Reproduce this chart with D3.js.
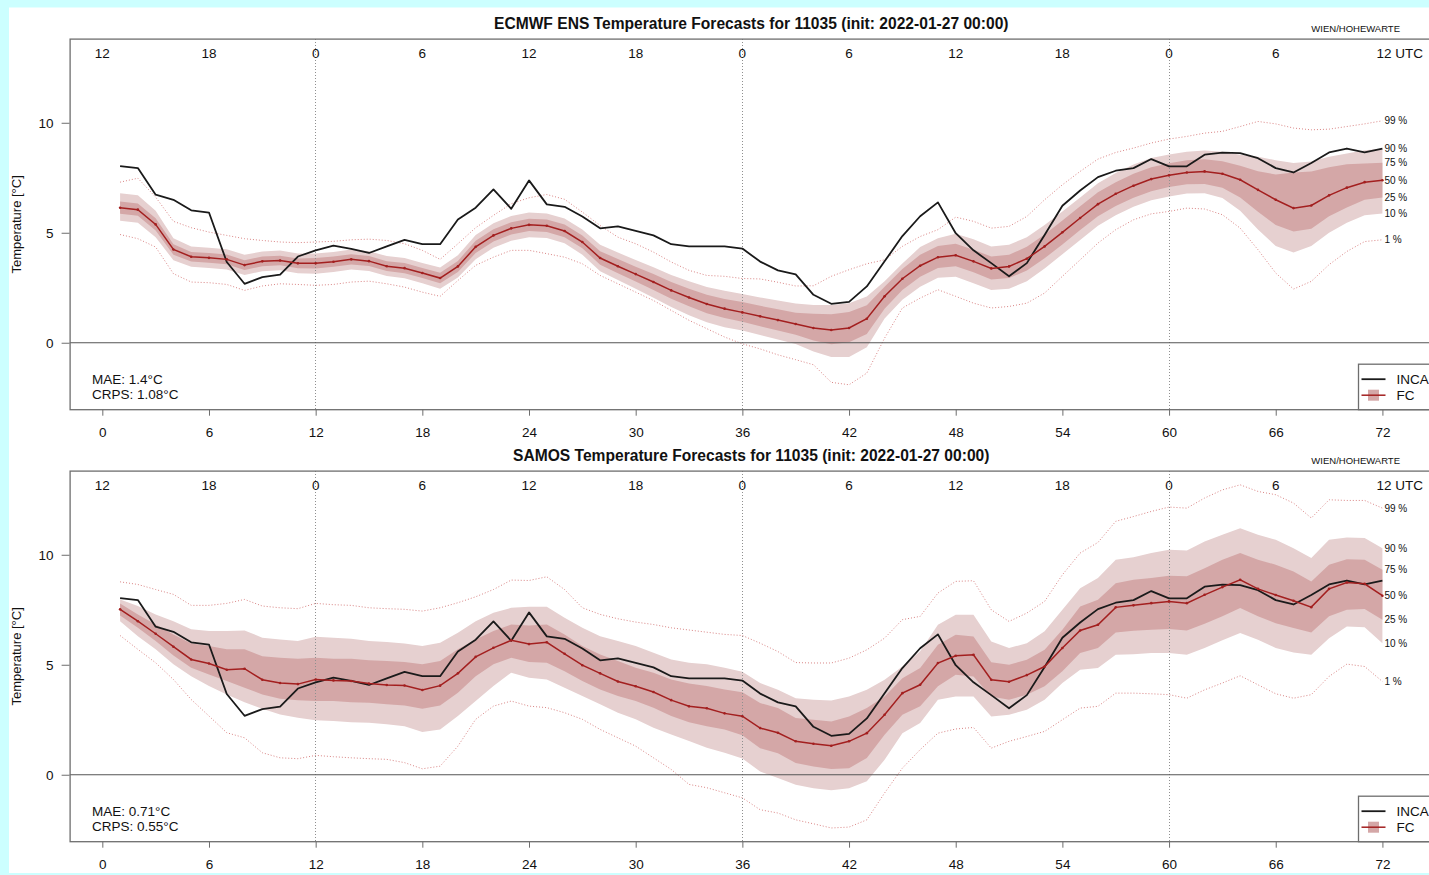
<!DOCTYPE html>
<html>
<head>
<meta charset="utf-8">
<script src="https://cdn.jsdelivr.net/npm/d3@7"></script>
<style>
  html, body { margin: 0; padding: 0; background: #ccffff; }
  svg { display: block; font-family: "Liberation Sans", Arial, Helvetica, sans-serif; }
</style>
</head>
<body>
<svg id="chart" width="1429" height="875"></svg>
<script>
// ---- data: lead time (h) 1..72, observation and forecast quantiles ----
const leadHours = d3.range(1, 73);
const bottomTicks = [0, 6, 12, 18, 24, 30, 36, 42, 48, 54, 60, 66, 72];
const utcLabels = ["12", "18", "0", "6", "12", "18", "0", "6", "12", "18", "0", "6", "12 UTC"];
const midnightHours = [12, 36, 60];
const tempTicks = [0, 5, 10];
const quantileNames = ["1 %", "10 %", "25 %", "50 %", "75 %", "90 %", "99 %"];

// INCA analysis (observed) temperature
const inca = [8.03, 7.94, 6.73, 6.50, 6.02, 5.92, 3.67, 2.68, 2.98, 3.10, 3.92, 4.20, 4.41, 4.27, 4.08, 4.38, 4.68, 4.48,
  4.48, 5.60, 6.14, 6.97, 6.09, 7.38, 6.29, 6.18, 5.74, 5.20, 5.29, 5.09, 4.88, 4.48, 4.38, 4.38, 4.38, 4.28,
  3.69, 3.29, 3.11, 2.18, 1.77, 1.86, 2.56, 3.70, 4.85, 5.75, 6.38, 4.98, 4.20, 3.62, 3.02, 3.62, 4.90, 6.23,
  6.92, 7.53, 7.82, 7.94, 8.35, 8.02, 8.02, 8.55, 8.64, 8.62, 8.39, 7.94, 7.74, 8.17, 8.65, 8.83, 8.65, 8.82];

// ECMWF ENS quantiles
const ensQ01 = [4.92, 4.73, 4.35, 3.14, 2.76, 2.73, 2.65, 2.38, 2.58, 2.68, 2.65, 2.61, 2.65, 2.76, 2.80, 2.68, 2.53, 2.30,
  2.11, 2.83, 3.52, 3.89, 4.20, 4.20, 4.05, 3.89, 3.59, 3.06, 2.68, 2.30, 1.92, 1.47, 1.02, 0.64, 0.26, -0.05,
  -0.28, -0.55, -0.77, -1.00, -1.80, -1.91, -1.38, 0.21, 1.58, 2.03, 2.41, 2.11, 1.80, 1.58, 1.65, 1.80, 2.26, 3.02,
  3.77, 4.53, 5.14, 5.59, 5.86, 5.97, 6.12, 6.08, 5.82, 5.21, 4.23, 3.17, 2.44, 2.79, 3.55, 4.15, 4.60, 4.68];
const ensQ10 = [5.55, 5.45, 4.80, 3.75, 3.45, 3.40, 3.33, 3.08, 3.25, 3.29, 3.16, 3.14, 3.22, 3.33, 3.26, 3.03, 2.93, 2.71,
  2.46, 2.97, 3.80, 4.32, 4.64, 4.80, 4.76, 4.52, 4.00, 3.25, 2.85, 2.45, 2.05, 1.62, 1.25, 0.93, 0.70, 0.56,
  0.35, 0.15, -0.06, -0.40, -0.65, -0.65, -0.20, 1.10, 1.95, 2.55, 2.95, 3.00, 2.70, 2.40, 2.45, 2.80, 3.38, 4.02,
  4.67, 5.32, 5.80, 6.18, 6.48, 6.65, 6.78, 6.80, 6.58, 6.00, 5.15, 4.40, 4.10, 4.40, 5.00, 5.45, 5.80, 5.88];
const ensQ25 = [5.86, 5.77, 5.10, 4.00, 3.69, 3.64, 3.57, 3.31, 3.48, 3.52, 3.39, 3.38, 3.45, 3.56, 3.49, 3.26, 3.16, 2.94,
  2.70, 3.22, 4.08, 4.60, 4.92, 5.08, 5.04, 4.80, 4.30, 3.55, 3.16, 2.78, 2.40, 2.00, 1.66, 1.34, 1.12, 0.95,
  0.75, 0.56, 0.36, 0.10, -0.07, 0.02, 0.40, 1.55, 2.40, 3.00, 3.40, 3.48, 3.20, 2.88, 2.94, 3.28, 3.84, 4.47,
  5.12, 5.75, 6.22, 6.59, 6.89, 7.08, 7.20, 7.22, 7.05, 6.60, 5.95, 5.35, 5.06, 5.18, 5.75, 6.15, 6.50, 6.60];
const ensQ50 = [6.14, 6.05, 5.38, 4.24, 3.91, 3.86, 3.79, 3.53, 3.70, 3.74, 3.61, 3.61, 3.68, 3.79, 3.71, 3.48, 3.39, 3.17,
  2.94, 3.47, 4.36, 4.88, 5.20, 5.36, 5.32, 5.08, 4.58, 3.85, 3.48, 3.12, 2.76, 2.38, 2.06, 1.76, 1.55, 1.38,
  1.20, 1.03, 0.85, 0.67, 0.58, 0.67, 1.09, 2.11, 2.91, 3.50, 3.89, 3.98, 3.70, 3.38, 3.47, 3.82, 4.38, 5.02,
  5.67, 6.30, 6.77, 7.14, 7.44, 7.61, 7.74, 7.79, 7.68, 7.41, 6.95, 6.50, 6.12, 6.24, 6.70, 7.05, 7.30, 7.39];
const ensQ75 = [6.42, 6.33, 5.66, 4.48, 4.13, 4.08, 4.01, 3.75, 3.92, 3.96, 3.83, 3.85, 3.92, 4.02, 3.94, 3.71, 3.62, 3.40,
  3.18, 3.72, 4.64, 5.16, 5.48, 5.64, 5.60, 5.37, 4.87, 4.16, 3.81, 3.46, 3.12, 2.76, 2.46, 2.18, 1.99, 1.85,
  1.68, 1.52, 1.36, 1.32, 1.30, 1.40, 1.70, 2.55, 3.35, 4.00, 4.40, 4.50, 4.23, 3.92, 4.00, 4.36, 4.92, 5.56,
  6.20, 6.84, 7.30, 7.68, 7.98, 8.16, 8.30, 8.34, 8.25, 8.05, 7.80, 7.65, 7.74, 7.78, 7.98, 8.12, 8.15, 8.18];
const ensQ90 = [6.80, 6.70, 6.00, 4.75, 4.38, 4.32, 4.25, 4.00, 4.15, 4.19, 4.06, 4.06, 4.13, 4.24, 4.16, 3.94, 3.85, 3.63,
  3.42, 3.98, 4.90, 5.43, 5.76, 5.92, 5.88, 5.65, 5.15, 4.45, 4.10, 3.76, 3.43, 3.08, 2.80, 2.53, 2.36, 2.22,
  2.06, 1.92, 1.78, 1.72, 1.72, 1.80, 2.10, 2.80, 3.60, 4.35, 4.75, 4.95, 4.70, 4.38, 4.45, 4.80, 5.35, 5.97,
  6.60, 7.25, 7.72, 8.10, 8.40, 8.56, 8.68, 8.74, 8.68, 8.55, 8.45, 8.30, 8.17, 8.24, 8.45, 8.60, 8.75, 8.82];
const ensQ99 = [7.30, 7.48, 6.62, 5.52, 5.23, 5.03, 4.88, 4.73, 4.65, 4.58, 4.55, 4.58, 4.61, 4.68, 4.71, 4.65, 4.50, 4.20,
  3.79, 4.50, 5.23, 5.79, 6.32, 6.59, 6.74, 6.52, 5.94, 5.33, 4.80, 4.50, 4.12, 3.67, 3.29, 3.06, 3.02, 2.92,
  2.90, 2.75, 2.58, 2.59, 3.02, 3.32, 3.59, 3.77, 4.38, 4.83, 5.14, 5.71, 5.52, 5.21, 5.29, 5.74, 6.50, 7.18,
  7.79, 8.35, 8.65, 8.85, 9.08, 9.26, 9.38, 9.53, 9.61, 9.83, 10.06, 9.95, 9.76, 9.68, 9.71, 9.83, 9.95, 10.09];

// SAMOS quantiles
const samosQ01 = [6.33, 5.70, 5.09, 4.33, 3.42, 2.67, 1.91, 1.68, 1.00, 0.77, 0.73, 0.88, 0.82, 0.77, 0.73, 0.70, 0.55, 0.27,
  0.39, 1.30, 2.52, 3.12, 3.35, 3.12, 3.05, 2.82, 2.52, 2.06, 1.68, 1.30, 0.77, 0.24, -0.44, -0.59, -0.82, -1.05,
  -1.59, -1.74, -2.05, -2.23, -2.42, -2.38, -2.05, -0.83, 0.30, 1.14, 1.89, 2.08, 2.15, 1.21, 1.52, 1.74, 1.97, 2.50,
  3.03, 3.11, 3.71, 3.71, 3.68, 3.64, 3.48, 3.86, 4.17, 4.50, 4.09, 3.68, 3.48, 3.64, 4.47, 5.03, 4.92, 4.24];
const samosQ10 = [6.98, 6.30, 5.70, 5.02, 4.48, 4.03, 3.65, 3.30, 3.00, 2.74, 2.59, 2.48, 2.44, 2.39, 2.36, 2.29, 2.21, 1.94,
  2.06, 2.67, 3.35, 4.03, 4.64, 4.41, 4.33, 3.95, 3.58, 3.20, 2.82, 2.52, 2.14, 1.83, 1.53, 1.23, 1.00, 0.74,
  0.15, -0.15, -0.45, -0.61, -0.71, -0.61, -0.30, 0.68, 1.89, 2.35, 3.41, 3.56, 3.56, 2.65, 2.73, 2.95, 3.41, 4.17,
  4.77, 4.85, 5.45, 5.48, 5.53, 5.53, 5.45, 5.76, 6.11, 6.44, 6.14, 5.76, 5.56, 5.45, 6.21, 6.74, 6.71, 5.98];
const samosQ25 = [7.24, 6.68, 6.08, 5.42, 4.86, 4.56, 4.26, 3.95, 3.65, 3.45, 3.39, 3.35, 3.35, 3.30, 3.27, 3.20, 3.15, 3.00,
  3.15, 3.73, 4.48, 5.02, 5.32, 5.12, 5.09, 4.71, 4.26, 3.88, 3.58, 3.35, 3.05, 2.67, 2.39, 2.21, 2.06, 1.80,
  1.21, 0.98, 0.53, 0.38, 0.26, 0.30, 0.76, 1.82, 2.73, 3.11, 4.02, 4.55, 4.47, 3.56, 3.41, 3.64, 4.02, 4.70,
  5.53, 5.76, 6.47, 6.55, 6.59, 6.62, 6.56, 6.86, 7.20, 7.58, 7.20, 6.89, 6.67, 6.47, 7.20, 7.50, 7.53, 7.05];
const samosQ50 = [7.52, 6.98, 6.41, 5.82, 5.24, 5.06, 4.77, 4.82, 4.32, 4.17, 4.12, 4.33, 4.29, 4.26, 4.15, 4.08, 4.06, 3.85,
  4.05, 4.61, 5.36, 5.77, 6.11, 5.94, 6.02, 5.50, 4.98, 4.61, 4.24, 4.02, 3.76, 3.39, 3.11, 3.02, 2.79, 2.66,
  2.12, 1.91, 1.52, 1.41, 1.32, 1.52, 1.89, 2.73, 3.71, 4.09, 5.08, 5.41, 5.45, 4.32, 4.23, 4.53, 4.92, 5.76,
  6.56, 6.82, 7.61, 7.70, 7.80, 7.88, 7.80, 8.18, 8.53, 8.86, 8.45, 8.17, 7.91, 7.62, 8.45, 8.74, 8.68, 8.14];
const samosQ75 = [7.79, 7.29, 6.83, 6.38, 5.97, 5.85, 5.70, 5.70, 5.39, 5.32, 5.27, 5.32, 5.27, 5.27, 5.21, 5.17, 5.12, 5.02,
  5.17, 5.70, 6.15, 6.53, 6.83, 6.79, 6.83, 6.38, 5.85, 5.47, 5.17, 4.86, 4.64, 4.33, 4.15, 4.03, 3.88, 3.75,
  3.26, 3.03, 2.58, 2.50, 2.42, 2.65, 3.03, 3.56, 4.39, 4.85, 5.91, 6.36, 6.29, 5.11, 5.00, 5.23, 5.68, 6.59,
  7.65, 7.95, 8.71, 8.86, 8.94, 9.05, 9.02, 9.39, 9.77, 10.08, 9.77, 9.55, 9.24, 8.79, 9.55, 9.80, 9.77, 9.32];
const samosQ90 = [7.97, 7.67, 7.29, 6.98, 6.61, 6.53, 6.53, 6.56, 6.23, 6.15, 6.08, 6.27, 6.23, 6.18, 6.08, 6.03, 5.97, 5.85,
  6.00, 6.45, 6.98, 7.36, 7.59, 7.64, 7.64, 7.14, 6.68, 6.30, 6.08, 5.85, 5.55, 5.24, 5.09, 5.02, 4.86, 4.68,
  4.17, 3.86, 3.48, 3.41, 3.38, 3.56, 3.86, 4.32, 4.92, 5.61, 6.82, 7.27, 7.27, 6.06, 5.76, 5.98, 6.52, 7.50,
  8.48, 8.94, 9.77, 9.89, 10.08, 10.23, 10.20, 10.60, 10.91, 11.21, 10.91, 10.68, 10.30, 9.85, 10.68, 10.79, 10.76, 10.30];
const samosQ99 = [8.77, 8.65, 8.42, 8.20, 7.70, 7.70, 7.79, 7.97, 7.67, 7.59, 7.55, 7.79, 7.73, 7.70, 7.59, 7.55, 7.52, 7.44,
  7.59, 7.82, 8.09, 8.42, 8.85, 8.83, 9.00, 8.42, 7.59, 7.29, 7.09, 6.94, 6.83, 6.68, 6.58, 6.48, 6.38, 6.33,
  5.98, 5.60, 5.10, 5.08, 5.08, 5.30, 5.68, 6.21, 7.05, 7.20, 8.26, 8.79, 8.82, 7.50, 6.97, 7.35, 7.88, 9.09,
  10.08, 10.56, 11.52, 11.74, 11.97, 12.17, 12.12, 12.58, 12.95, 13.18, 12.88, 12.73, 12.35, 11.67, 12.50, 12.47, 12.47, 12.12];

const panels = [
  { title: "ECMWF ENS Temperature Forecasts for 11035 (init: 2022-01-27 00:00)",
    q: [ensQ01, ensQ10, ensQ25, ensQ50, ensQ75, ensQ90, ensQ99], scores: ["MAE: 1.4°C", "CRPS: 1.08°C"], offset: 0 },
  { title: "SAMOS Temperature Forecasts for 11035 (init: 2022-01-27 00:00)",
    q: [samosQ01, samosQ10, samosQ25, samosQ50, samosQ75, samosQ90, samosQ99], scores: ["MAE: 0.71°C", "CRPS: 0.55°C"], offset: 432 }
];
const station = "WIEN/HOHEWARTE";

// ---- styling ----
const C = {
  light: "#e6d0d0", dark: "#d4a7a7", median: "#a31f1f", tails: "#d98484",
  obs: "#1a1a1a", frame: "#6e6e6e", grid: "#8f8f8f", zero: "#555555", text: "#111111"
};

const svg = d3.select("#chart");
svg.append("rect").attr("x", 9).attr("y", 7.5).attr("width", 1429).attr("height", 865.5).attr("fill", "#ffffff");

// shared scales: R-style 4% padding around the data range
const hourExt = d3.extent(leadHours);
const hPad = (hourExt[1] - hourExt[0]) * 0.04;
const x = d3.scaleLinear().domain([hourExt[0] - hPad, hourExt[1] + hPad]).range([69.6, 1432.9]);

const allVals = [inca].concat(panels[0].q, panels[1].q).flat();
const tExt = d3.extent(allVals);
const tPad = (tExt[1] - tExt[0]) * 0.04;
const tDomain = [tExt[0] - tPad, tExt[1] + tPad];

panels.forEach(p => drawPanel(p));

function drawPanel(p) {
  const top = 39.1 + p.offset, bottom = 409.7 + p.offset;
  const y = d3.scaleLinear().domain(tDomain).range([bottom, top]);
  const g = svg.append("g");
  const left = x.range()[0], right = x.range()[1];

  const clipId = "clip" + p.offset;
  g.append("clipPath").attr("id", clipId).append("rect")
    .attr("x", left).attr("y", top).attr("width", right - left).attr("height", bottom - top);
  const plot = g.append("g").attr("clip-path", `url(#${clipId})`);

  const rows = leadHours.map((h, i) => ({ h, q: p.q.map(s => s[i]), obs: inca[i] }));

  const band = (lo, hi) => d3.area().x(d => x(d.h)).y0(d => y(d.q[lo])).y1(d => y(d.q[hi]));
  plot.append("path").attr("d", band(1, 5)(rows)).attr("fill", C.light);
  plot.append("path").attr("d", band(2, 4)(rows)).attr("fill", C.dark);

  // 1% and 99% dotted lines
  [0, 6].forEach(k => {
    plot.append("path")
      .attr("d", d3.line().x(d => x(d.h)).y(d => y(d.q[k]))(rows))
      .attr("fill", "none").attr("stroke", C.tails).attr("stroke-width", 1)
      .attr("stroke-dasharray", "1,2");
  });

  // midnight markers and zero line
  midnightHours.forEach(h => {
    plot.append("line").attr("x1", x(h)).attr("x2", x(h)).attr("y1", top).attr("y2", bottom)
      .attr("stroke", C.grid).attr("stroke-width", 1).attr("stroke-dasharray", "1,2")
      .attr("shape-rendering", "crispEdges");
  });
  plot.append("line").attr("x1", left).attr("x2", right).attr("y1", y(0)).attr("y2", y(0))
    .attr("stroke", C.zero).attr("stroke-width", 1.2);

  // observation
  plot.append("path")
    .attr("d", d3.line().x(d => x(d.h)).y(d => y(d.obs))(rows))
    .attr("fill", "none").attr("stroke", C.obs).attr("stroke-width", 1.8).attr("stroke-linejoin", "round");

  // median with markers
  plot.append("path")
    .attr("d", d3.line().x(d => x(d.h)).y(d => y(d.q[3]))(rows))
    .attr("fill", "none").attr("stroke", C.median).attr("stroke-width", 1.5);
  plot.selectAll("circle.med").data(rows).join("circle").attr("class", "med")
    .attr("cx", d => x(d.h)).attr("cy", d => y(d.q[3])).attr("r", 1.3).attr("fill", C.median);

  // frame
  g.append("rect").attr("x", left + 0.5).attr("y", top).attr("width", right - left).attr("height", bottom - top)
    .attr("fill", "none").attr("stroke", C.frame).attr("stroke-width", 1.3);

  // bottom axis (lead time)
  const xAxis = d3.axisBottom(x).tickValues(bottomTicks).tickSize(6).tickPadding(12).tickFormat(d3.format("d"));
  const ax = g.append("g").attr("transform", `translate(0,${bottom})`).call(xAxis);
  ax.select(".domain").remove();
  ax.selectAll(".tick line").attr("stroke", C.frame);
  ax.selectAll(".tick text").attr("font-size", 13.5).attr("fill", C.text)
    .attr("font-family", "'Liberation Sans', Arial, sans-serif");

  // left axis
  const yAxis = d3.axisLeft(y).tickValues(tempTicks).tickSize(8).tickPadding(8).tickFormat(d3.format("d"));
  const ay = g.append("g").attr("transform", `translate(${left},0)`).call(yAxis);
  ay.select(".domain").remove();
  ay.selectAll(".tick line").attr("stroke", C.frame);
  ay.selectAll(".tick text").attr("font-size", 13.5).attr("fill", C.text)
    .attr("font-family", "'Liberation Sans', Arial, sans-serif");

  // top: time of day
  g.selectAll("text.utc").data(bottomTicks).join("text").attr("class", "utc")
    .attr("x", (d, i) => i === bottomTicks.length - 1 ? x(d) - 6 : x(d))
    .attr("y", top + 19)
    .attr("text-anchor", (d, i) => i === bottomTicks.length - 1 ? "start" : "middle")
    .attr("font-size", 13.5).attr("fill", C.text)
    .text((d, i) => utcLabels[i]);

  // titles
  g.append("text").attr("x", (left + right) / 2).attr("y", top - 10).attr("text-anchor", "middle")
    .attr("font-size", 15.6).attr("font-weight", "bold").attr("fill", C.text).text(p.title);
  g.append("text").attr("x", 1400).attr("y", top - 7).attr("text-anchor", "end")
    .attr("font-size", 9.5).attr("fill", C.text).text(station);

  // y label
  g.append("text")
    .attr("transform", `translate(21,${(top + bottom) / 2}) rotate(-90)`)
    .attr("text-anchor", "middle").attr("font-size", 13).attr("fill", C.text)
    .text("Temperature [°C]");

  // quantile labels at the last lead time
  const last = rows[rows.length - 1];
  quantileNames.forEach((name, k) => {
    g.append("text").attr("x", x(last.h) + 2).attr("y", y(last.q[k])).attr("dy", "0.35em")
      .attr("font-size", 10).attr("fill", C.text).text(name);
  });

  // scores
  g.selectAll("text.score").data(p.scores).join("text").attr("class", "score")
    .attr("x", 92).attr("y", (d, i) => bottom - 26 + i * 15)
    .attr("font-size", 13.5).attr("fill", C.text).text(d => d);

  // legend
  const lg = g.append("g").attr("transform", `translate(1358.5,${bottom - 45.5})`);
  lg.append("rect").attr("width", 120).attr("height", 45.5).attr("fill", "#fff")
    .attr("stroke", C.frame).attr("stroke-width", 1.3);
  lg.append("line").attr("x1", 3).attr("x2", 27).attr("y1", 15).attr("y2", 15)
    .attr("stroke", C.obs).attr("stroke-width", 1.8);
  lg.append("rect").attr("x", 9.5).attr("y", 25.5).attr("width", 11).attr("height", 11).attr("fill", C.dark);
  lg.append("line").attr("x1", 3).attr("x2", 27).attr("y1", 31).attr("y2", 31)
    .attr("stroke", C.median).attr("stroke-width", 1.5);
  lg.append("text").attr("x", 38).attr("y", 20).attr("font-size", 13.5).attr("fill", C.text).text("INCA");
  lg.append("text").attr("x", 38).attr("y", 36).attr("font-size", 13.5).attr("fill", C.text).text("FC");
}
</script>
</body>
</html>
